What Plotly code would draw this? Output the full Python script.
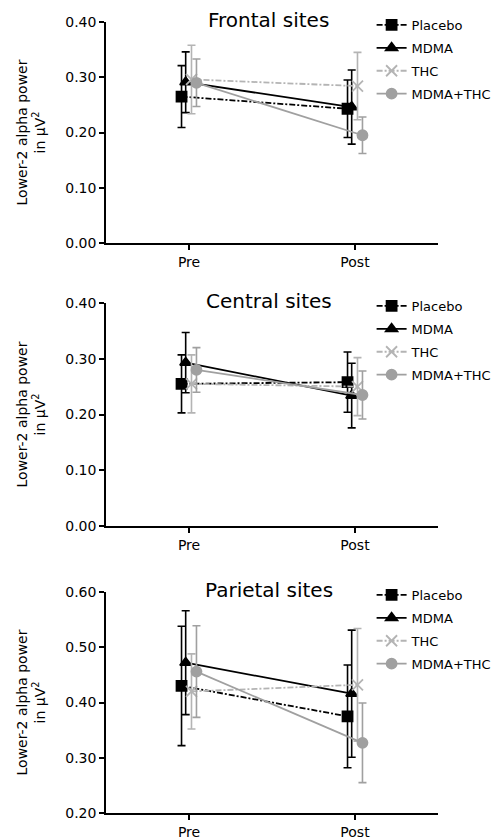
import plotly.graph_objects as go

periods = ["Pre", "Post"]
groups = ["Placebo", "MDMA", "THC", "MDMA+THC"]
panels = ["Frontal sites", "Central sites", "Parietal sites"]

# means and SE per panel, per group [Pre, Post]
frontal_mean = {"Placebo": [0.265, 0.243], "MDMA": [0.291, 0.246], "THC": [0.296, 0.284], "MDMA+THC": [0.290, 0.195]}
frontal_err = {"Placebo": [0.056, 0.052], "MDMA": [0.055, 0.067], "THC": [0.062, 0.061], "MDMA+THC": [0.043, 0.033]}
central_mean = {"Placebo": [0.255, 0.258], "MDMA": [0.293, 0.234], "THC": [0.255, 0.250], "MDMA+THC": [0.280, 0.235]}
central_err = {"Placebo": [0.052, 0.054], "MDMA": [0.054, 0.058], "THC": [0.052, 0.052], "MDMA+THC": [0.040, 0.043]}
parietal_mean = {"Placebo": [0.430, 0.375], "MDMA": [0.472, 0.416], "THC": [0.420, 0.432], "MDMA+THC": [0.456, 0.327]}
parietal_err = {"Placebo": [0.108, 0.093], "MDMA": [0.094, 0.115], "THC": [0.068, 0.102], "MDMA+THC": [0.083, 0.072]}

y_ranges = [[0, 0.40], [0, 0.40], [0.20, 0.60]]
y_ticks = [[0.0, 0.1, 0.2, 0.3, 0.4], [0.0, 0.1, 0.2, 0.3, 0.4], [0.2, 0.3, 0.4, 0.5, 0.6]]

styles = {
    "Placebo": dict(color="black", dash="6px,2px,2px,2px", symbol="square", size=10, offset=-0.045),
    "MDMA": dict(color="black", dash="solid", symbol="triangle-up", size=10, offset=-0.02),
    "THC": dict(color="#b4b4b4", dash="6px,2px,2px,2px", symbol="x-thin-open", size=11, offset=0.015),
    "MDMA+THC": dict(color="#a0a0a0", dash="solid", symbol="circle", size=10, offset=0.045),
}

means = [frontal_mean, central_mean, parietal_mean]
errs = [frontal_err, central_err, parietal_err]

# page has an 8px body margin: figure pixel = page pixel - 8
OFF = 8
W, H = 504 - OFF, 840 - OFF
top_px = [22 - OFF, 303 - OFF, 592 - OFF]
bot_px = [243 - OFF, 526 - OFF, 813 - OFF]
mt, mb = top_px[0], H - bot_px[2]
ml, mr = 106 - OFF, 504 - 438
ph = H - mt - mb

def py(p):
    return (H - mb - p) / ph

fig = go.Figure()
font = "DejaVu Sans"
annotations = []
for i in range(3):
    xa = "x" if i == 0 else f"x{i+1}"
    ya = "y" if i == 0 else f"y{i+1}"
    lg = "legend" if i == 0 else f"legend{i+1}"
    for g in groups:
        s = styles[g]
        xs = [k + s["offset"] for k in range(len(periods))]
        fig.add_trace(go.Scatter(
            x=xs, y=means[i][g], name=g, mode="lines+markers",
            xaxis=xa, yaxis=ya, legend=lg, legendgroup=f"{i}{g}",
            line=dict(color=s["color"], dash=s["dash"], width=1.8),
            marker=dict(symbol=s["symbol"], size=s["size"], color=s["color"],
                        line=dict(color=s["color"], width=1.8)),
            error_y=dict(type="data", array=errs[i][g], color=s["color"], thickness=1.6, width=4),
        ))
    dom = [py(bot_px[i]), py(top_px[i])]
    axkey = "xaxis" if i == 0 else f"xaxis{i+1}"
    aykey = "yaxis" if i == 0 else f"yaxis{i+1}"
    fig.update_layout(**{
        axkey: dict(domain=[0, 1], range=[-0.5, 1.5], tickvals=[0, 1], ticktext=periods,
                    showline=True, linecolor="black", linewidth=1.6, ticks="outside",
                    ticklen=5, tickwidth=1.6, tickcolor="black", showgrid=False, zeroline=False,
                    anchor=ya, tickfont=dict(size=14, family=font, color="black"), fixedrange=True),
        aykey: dict(domain=dom, range=y_ranges[i], tickvals=y_ticks[i], tickformat=".2f",
                    showline=True, linecolor="black", linewidth=1.6, ticks="outside",
                    ticklen=5, tickwidth=1.6, tickcolor="black", showgrid=False, zeroline=False,
                    anchor=xa, tickfont=dict(size=14, family=font, color="black"),
                    title=dict(text="Lower-2 alpha power<br>in µV<sup>2</sup>", standoff=16,
                               font=dict(size=14, family=font, color="black"))),
        lg: dict(x=0.8, y=py(top_px[i] - 12), xanchor="left", yanchor="top",
                 bgcolor="rgba(0,0,0,0)", font=dict(size=13, family=font, color="black"),
                 tracegroupgap=3, itemwidth=30),
    })
    annotations.append(dict(text=panels[i], xref="paper", yref="paper", x=0.49, y=py(top_px[i] - 2),
                            xanchor="center", yanchor="middle", showarrow=False,
                            font=dict(size=20, family=font, color="black")))

fig.update_layout(width=W, height=H, margin=dict(l=ml, r=mr, t=mt, b=mb, autoexpand=False),
                  plot_bgcolor="white", paper_bgcolor="white", showlegend=True,
                  annotations=annotations, font=dict(family=font, color="black"))
fig.write_html("out.html")
